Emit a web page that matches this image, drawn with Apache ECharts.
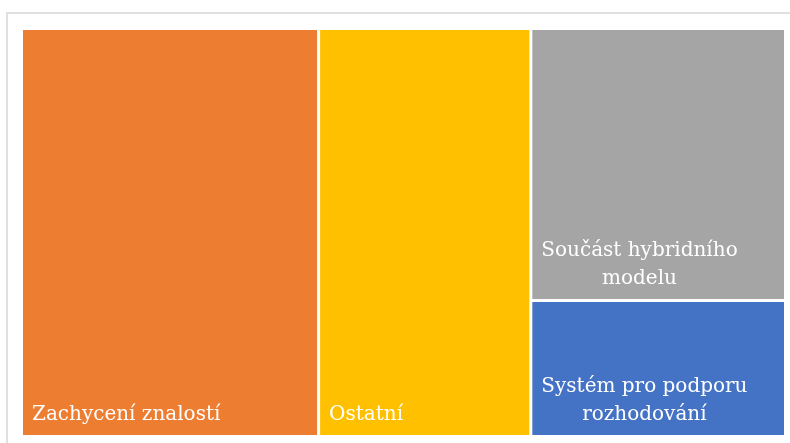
<!DOCTYPE html>
<html>
<head>
<meta charset="utf-8">
<script src="https://cdn.jsdelivr.net/npm/echarts@6/dist/echarts.min.js"></script>
<style>html,body{margin:0;padding:0;background:#fff;}#c{width:790px;height:443px;}</style>
</head>
<body>
<div id="c"></div>
<script>
const categories = ['Zachycení znalostí', 'Ostatní', 'Součást hybridního\nmodelu', 'Systém pro podporu\nrozhodování'];
const values = [35, 25, 20, 10];
const colors = ['#ED7D31', '#FFC000', '#A5A5A5', '#4472C4'];

const FONT_SIZE = 20;
const FONT_FAMILY = 'DejaVu Serif';
const PAD_X = 9;
const PAD_Y = 1;

const ctx = document.createElement('canvas').getContext('2d');
ctx.font = FONT_SIZE + 'px "' + FONT_FAMILY + '"';
function maxLineWidth(s) {
  return Math.max.apply(null, s.split('\n').map(l => ctx.measureText(l).width));
}

const data = categories.map((name, i) => ({
  name: name,
  value: values[i],
  itemStyle: { color: colors[i] },
  label: {
    position: [PAD_X + maxLineWidth(name) / 2, '100%'],
    offset: [0, -PAD_Y],
    align: 'center',
    verticalAlign: 'bottom'
  }
}));

const chart = echarts.init(document.getElementById('c'));
chart.setOption({
  animation: false,
  graphic: [{
    type: 'rect',
    shape: { x: 7, y: 13, width: 820, height: 470 },
    style: { fill: 'none', stroke: '#e0e0e0', lineWidth: 2 },
    silent: true
  }],
  series: [{
    type: 'treemap',
    left: 23, top: 30, right: 6, bottom: 8,
    roam: false,
    nodeClick: false,
    squareRatio: 1,
    breadcrumb: { show: false },
    sort: 'desc',
    itemStyle: { gapWidth: 3, borderWidth: 0, borderColor: '#fff' },
    levels: [
      { itemStyle: { gapWidth: 3, borderWidth: 0, borderColor: '#fff' } },
      { itemStyle: { borderWidth: 0, gapWidth: 0 } }
    ],
    label: {
      show: true,
      color: '#fff',
      fontFamily: FONT_FAMILY,
      fontSize: FONT_SIZE,
      lineHeight: 28,
      overflow: 'none'
    },
    data: data
  }]
});
</script>
</body>
</html>
